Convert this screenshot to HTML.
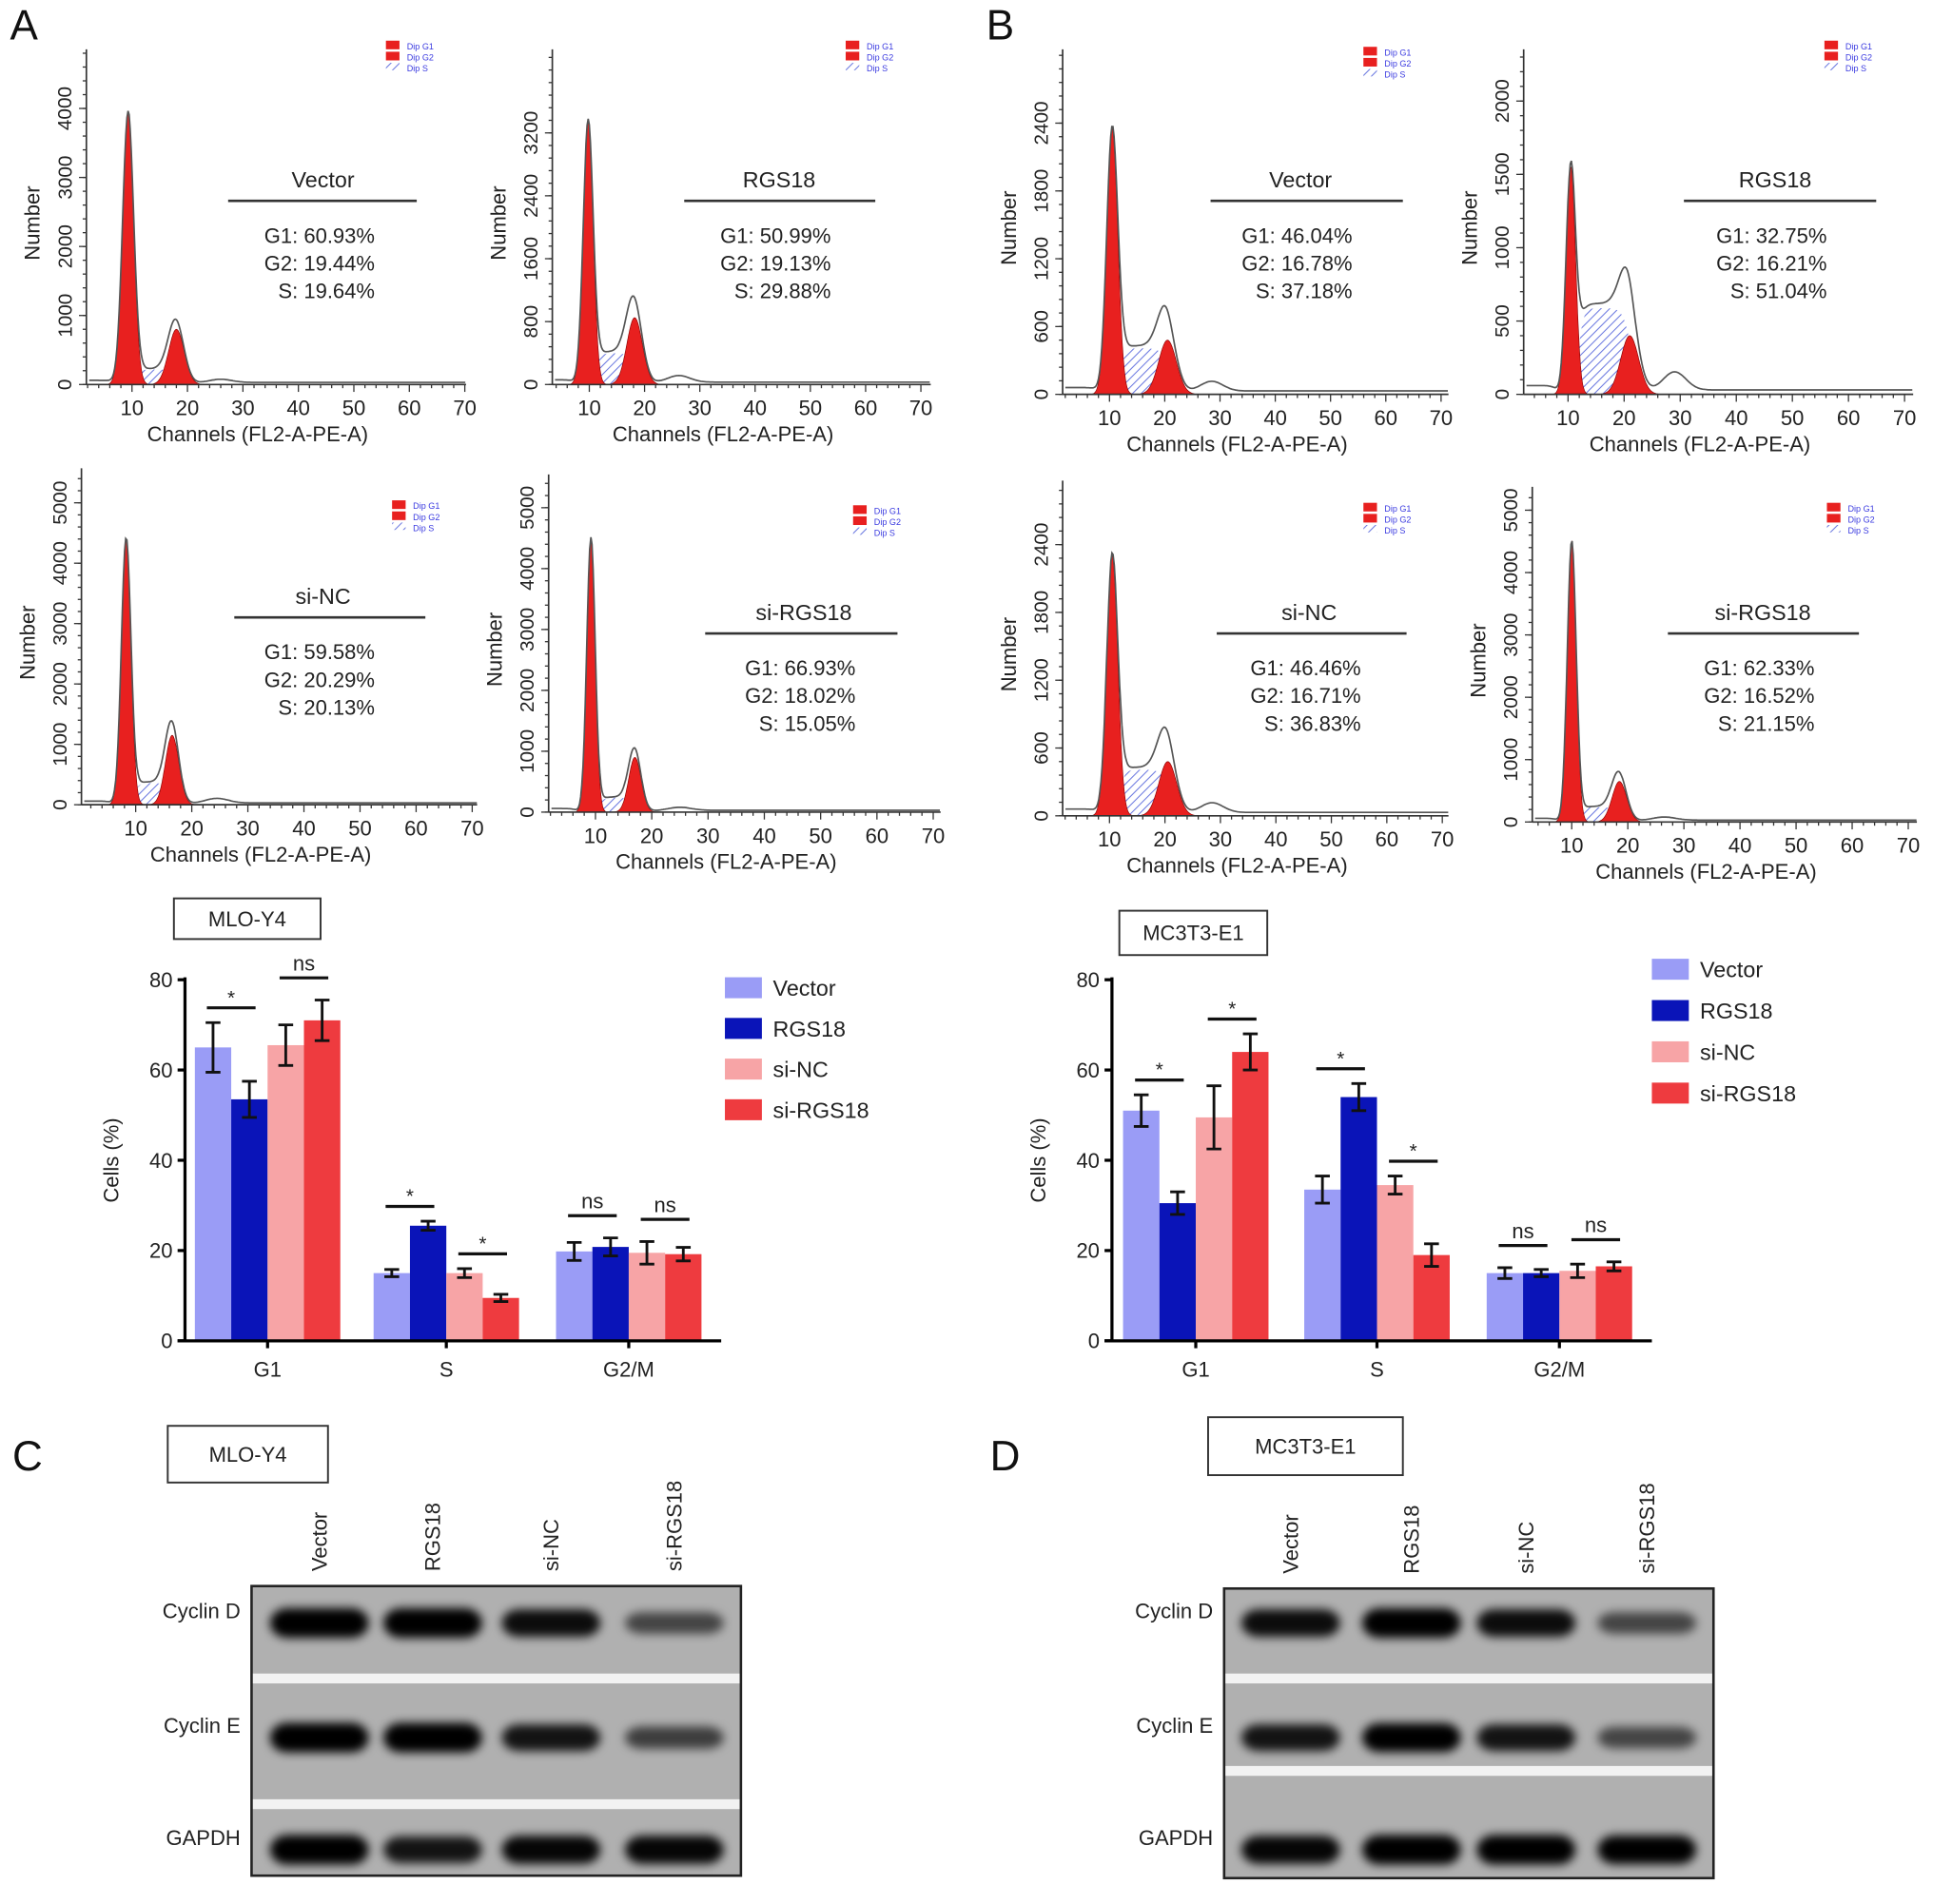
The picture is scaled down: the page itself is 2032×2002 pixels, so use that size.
<!DOCTYPE html>
<html><head><meta charset="utf-8">
<style>
html,body{margin:0;padding:0;background:#fff;}
svg{display:block;font-family:"Liberation Sans",Arial,sans-serif;}
</style></head>
<body>
<svg id="fig" width="2032" height="2002" viewBox="0 0 1568 1545" xmlns="http://www.w3.org/2000/svg">
<defs>
<pattern id="hatch" width="5" height="5" patternUnits="userSpaceOnUse" patternTransform="rotate(45)">
<rect width="5" height="5" fill="#fff"/><line x1="0" y1="0" x2="0" y2="5" stroke="#6a78e0" stroke-width="1.6"/></pattern>
<filter id="blur" x="-20%" y="-50%" width="140%" height="200%"><feGaussianBlur stdDeviation="4"/></filter>
</defs>
<g id="root"></g>
</svg>
<script>
// ===== Bar chart data =====
const categories = ["G1","S","G2/M"];
const seriesNames = ["Vector","RGS18","si-NC","si-RGS18"];
const seriesColors = ["#9a9cf6","#0a14b8","#f7a4a6","#ee3b3f"];
const yTicks = [0,20,40,60,80];
const mloValues = [[65,53.5,65.5,71],[15,25.5,15,9.5],[19.8,20.8,19.5,19.2]];
const mloErrors = [[5.5,4,4.5,4.5],[0.8,1,1,0.8],[2,2,2.5,1.5]];
const mcValues = [[51,30.5,49.5,64],[33.5,54,34.5,19],[15,15,15.5,16.5]];
const mcErrors = [[3.5,2.5,7,4],[3,3,2,2.5],[1.2,0.8,1.5,1]];
// significance: [category, first bar index, label]
const mloSig = [[0,0,"*"],[0,2,"ns"],[1,0,"*"],[1,2,"*"],[2,0,"ns"],[2,2,"ns"]];
const mcSig = [[0,0,"*"],[0,2,"*"],[1,0,"*"],[1,2,"*"],[2,0,"ns"],[2,2,"ns"]];

// ===== Histogram data =====
const histPanels = [
 {id:"a-vector",ax:70,ay0:312,top:40,xEnd:378,x10:107,x70:377,ticks:[0,1000,2000,3000,4000],perUnit:0.056,g1:[9.3,3950,1.0],g2:[18,800,1.4],s:230,title:"Vector",stats:["G1: 60.93%","G2: 19.44%","S: 19.64%"],tx:262,ty:146,lx1:185,lx2:338,leg:[313,33]},
 {id:"a-rgs18",ax:448,ay0:312,top:40,xEnd:755,x10:478,x70:747,ticks:[0,800,1600,2400,3200],perUnit:0.0638,g1:[9.8,3350,0.9],g2:[18.2,850,1.4],s:420,title:"RGS18",stats:["G1: 50.99%","G2: 19.13%","S: 29.88%"],tx:632,ty:146,lx1:555,lx2:710,leg:[686,33]},
 {id:"a-sinc",ax:66,ay0:653,top:380,xEnd:387,x10:110,x70:383,ticks:[0,1000,2000,3000,4000,5000],perUnit:0.049,g1:[8.3,4400,0.85],g2:[16.5,1150,1.2],s:380,title:"si-NC",stats:["G1: 59.58%","G2: 20.29%","S: 20.13%"],tx:262,ty:484,lx1:190,lx2:345,leg:[318,406]},
 {id:"a-sirgs18",ax:445,ay0:659,top:385,xEnd:763,x10:483,x70:757,ticks:[0,1000,2000,3000,4000,5000],perUnit:0.0494,g1:[9.2,4500,0.75],g2:[17,900,1.1],s:250,title:"si-RGS18",stats:["G1: 66.93%","G2: 18.02%","S: 15.05%"],tx:652,ty:497,lx1:572,lx2:728,leg:[692,410]},
 {id:"b-vector",ax:862,ay0:320,top:40,xEnd:1175,x10:900,x70:1169,ticks:[0,600,1200,1800,2400],perUnit:0.0917,g1:[10.5,2350,1.0],g2:[20.5,480,1.6],s:430,title:"Vector",stats:["G1: 46.04%","G2: 16.78%","S: 37.18%"],tx:1055,ty:146,lx1:982,lx2:1138,leg:[1106,38]},
 {id:"b-rgs18",ax:1236,ay0:320,top:40,xEnd:1552,x10:1272,x70:1545,ticks:[0,500,1000,1500,2000],perUnit:0.119,g1:[10.5,1550,0.85],g2:[21,400,1.6],s:620,title:"RGS18",stats:["G1: 32.75%","G2: 16.21%","S: 51.04%"],tx:1440,ty:146,lx1:1366,lx2:1522,leg:[1480,33]},
 {id:"b-sinc",ax:862,ay0:662,top:390,xEnd:1175,x10:900,x70:1170,ticks:[0,600,1200,1800,2400],perUnit:0.0917,g1:[10.5,2300,1.0],g2:[20.5,480,1.6],s:430,title:"si-NC",stats:["G1: 46.46%","G2: 16.71%","S: 36.83%"],tx:1062,ty:497,lx1:987,lx2:1141,leg:[1106,408]},
 {id:"b-sirgs18",ax:1243,ay0:667,top:395,xEnd:1555,x10:1275,x70:1548,ticks:[0,1000,2000,3000,4000,5000],perUnit:0.0506,g1:[10,4500,0.8],g2:[18.5,650,1.3],s:250,title:"si-RGS18",stats:["G1: 62.33%","G2: 16.52%","S: 21.15%"],tx:1430,ty:497,lx1:1353,lx2:1508,leg:[1482,408]}
];

const NS="http://www.w3.org/2000/svg";
const root=document.getElementById("root");
function mk(tag,attrs,parent,text){const e=document.createElementNS(NS,tag);for(const k in attrs)e.setAttribute(k,attrs[k]);if(text!==undefined)e.textContent=text;(parent||root).appendChild(e);return e;}

[["A",8,32],["B",800,32],["C",10,1193],["D",803,1193]].forEach(([t,x,y])=>{
 const e=mk("text",{x:x,y:y,"font-size":34,fill:"#111"},root,t);
 
 
});

function gauss(x,c,s){return Math.exp(-0.5*((x-c)/s)**2);}
function sig(x){return 1/(1+Math.exp(-x));}

histPanels.forEach(p=>{
 const g=mk("g",{});
 
 
 const k=(p.x70-p.x10)/60;
 const X=ch=>p.x10+(ch-10)*k;
 const Y=v=>p.ay0-v*p.perUnit;
 const c1=p.g1,c2=p.g2;
 const f1=x=>c1[1]*gauss(x,c1[0],c1[2]);
 const f2=x=>c2[1]*gauss(x,c2[0],c2[2]);
 const fs=x=>p.s*sig((x-c1[0]-1.3)/0.5)*sig((c2[0]+0.3-x)/0.7);
 const total=x=>f1(x)+f2(x)+fs(x)+ 50*gauss(x,c2[0]+8,2)*(p.s/250)+30*sig((x-c2[0]-3)/1)+60*sig((c1[0]-2.5-x)/0.5);
 const x0=(p.ax-p.x10)/k+10, x1=(p.xEnd-p.x10)/k+10;
 let d="M"+X(c1[0])+","+Y(0);
 for(let x=c1[0];x<=c2[0];x+=0.2)d+=" L"+X(x).toFixed(1)+","+Y(fs(x)*0.95).toFixed(1);
 d+=" L"+X(c2[0])+","+Y(0)+"Z";
 const sh=mk("path",{d:d,fill:"url(#hatch)",stroke:"none"},g);
 
 
 [[f1,c1,'g1-peak'],[f2,c2,'g2-peak']].forEach(([f,c,nm])=>{
  let dd="M"+X(c[0]-3.5*c[2])+","+Y(0);
  for(let x=c[0]-3.5*c[2];x<=c[0]+3.5*c[2];x+=0.1)dd+=" L"+X(x).toFixed(1)+","+Y(f(x)).toFixed(1);
  dd+=" Z";
  const pe=mk("path",{d:dd,fill:"#e8201f",stroke:"#8a0000","stroke-width":0.5},g);
  
  
 });
 let ld="";
 for(let x=x0+0.5;x<=x1;x+=0.2)ld+=(ld?" L":"M")+X(x).toFixed(1)+","+Y(total(x)).toFixed(1);
 const ln=mk("path",{d:ld,fill:"none",stroke:"#555","stroke-width":1.3},g);
 
 
 mk("line",{x1:p.ax,y1:p.top,x2:p.ax,y2:p.ay0,stroke:"#333","stroke-width":1.3},g);
 mk("line",{x1:p.ax,y1:p.ay0,x2:p.xEnd,y2:p.ay0,stroke:"#333","stroke-width":1.3},g);
 for(let yy=p.ay0;yy>=p.top;yy-=(p.ticks[1]*p.perUnit)/5)mk("line",{x1:p.ax-3,y1:yy,x2:p.ax,y2:yy,stroke:"#333"},g);
 p.ticks.forEach(t=>{
  mk("line",{x1:p.ax-6,y1:Y(t),x2:p.ax,y2:Y(t),stroke:"#333"},g);
  mk("text",{x:p.ax-12,y:Y(t),"font-size":16,fill:"#222","text-anchor":"middle",transform:`rotate(-90 ${p.ax-12} ${Y(t)})`},g,t);
 });
 for(let ch=2;ch<=x1;ch+=2)if(X(ch)>=p.ax)mk("line",{x1:X(ch),y1:p.ay0,x2:X(ch),y2:p.ay0+(ch%10==0?6:3),stroke:"#333"},g);
 for(let ch=10;ch<=70;ch+=10)mk("text",{x:X(ch),y:p.ay0+25,"font-size":17,fill:"#222","text-anchor":"middle"},g,ch);
 const xl=mk("text",{x:(p.ax+p.xEnd)/2-15,y:p.ay0+46,"font-size":17,fill:"#222","text-anchor":"middle"},g,"Channels (FL2-A-PE-A)");
 
 
 const yx=p.ax-38,yy=(p.top+p.ay0)/2+5;
 const yl=mk("text",{x:yx,y:yy,"font-size":17,fill:"#222","text-anchor":"middle",transform:`rotate(-90 ${yx} ${yy})`},g,"Number");
 
 
 const tt=mk("text",{x:p.tx,y:p.ty+6,"font-size":18,fill:"#222","text-anchor":"middle"},g,p.title);
 
 
 mk("line",{x1:p.lx1,y1:p.ty+17,x2:p.lx2,y2:p.ty+17,stroke:"#333","stroke-width":2},g);
 p.stats.forEach((s,i)=>mk("text",{x:p.tx+42,y:p.ty+51+i*22.5,"font-size":17,fill:"#222","text-anchor":"end"},g,s));
 const lg=mk("g",{},g);
 
 
 const [lx,ly]=p.leg;
 mk("rect",{x:lx,y:ly,width:11,height:7,fill:"#e8201f"},lg);
 mk("rect",{x:lx,y:ly+9,width:11,height:7,fill:"#e8201f"},lg);
 mk("rect",{x:lx,y:ly+18,width:11,height:6,fill:"url(#hatch)"},lg);
 ["Dip G1","Dip G2","Dip S"].forEach((t,i)=>mk("text",{x:lx+17,y:ly+7+i*9,"font-size":7,fill:"#3a3ae0"},lg,t));
});

function boxLabel(x,y,w,h,t,name){
 const g=mk("g",{});
 
 
 mk("rect",{x:x,y:y,width:w,height:h,fill:"#fff",stroke:"#333","stroke-width":1.5},g);
 mk("text",{x:x+w/2,y:y+h/2+6,"font-size":17,fill:"#222","text-anchor":"middle"},g,t);
}
boxLabel(141,729,119,33,"MLO-Y4","cell-line-label-mlo");
boxLabel(908,739,120,36,"MC3T3-E1","cell-line-label-mc3t3");

function barChart(cfg,values,errors,sigs){
 const g=mk("g",{});
 
 
 const Y=v=>cfg.y0-(v/80)*(cfg.y0-cfg.y80);
 const bw=29.5;
 const bx=(c,s)=>cfg.centers[c]-2*bw+s*bw;
 values.forEach((row,c)=>row.forEach((v,s)=>{
  const r=mk("rect",{x:bx(c,s),y:Y(v),width:bw,height:cfg.y0-Y(v),fill:seriesColors[s]},g);
  
  
  const cx=bx(c,s)+bw/2,e=errors[c][s];
  mk("path",{d:`M${cx},${Y(v+e)} V${Y(v-e)} M${cx-6},${Y(v+e)} H${cx+6} M${cx-6},${Y(v-e)} H${cx+6}`,stroke:"#111","stroke-width":2.2,fill:"none"},g);
 }));
 mk("line",{x1:cfg.ax,y1:cfg.y80-2,x2:cfg.ax,y2:cfg.y0,stroke:"#000","stroke-width":2.5},g);
 mk("line",{x1:cfg.ax-6,y1:cfg.y0,x2:cfg.xEnd,y2:cfg.y0,stroke:"#000","stroke-width":2.5},g);
 yTicks.forEach(t=>{
  mk("line",{x1:cfg.ax-6,y1:Y(t),x2:cfg.ax,y2:Y(t),stroke:"#000","stroke-width":2.5},g);
  mk("text",{x:cfg.ax-10,y:Y(t)+6,"font-size":17,fill:"#222","text-anchor":"end"},g,t);
 });
 categories.forEach((c,i)=>{
  mk("line",{x1:cfg.centers[i],y1:cfg.y0,x2:cfg.centers[i],y2:cfg.y0+6,stroke:"#000","stroke-width":2.5},g);
  mk("text",{x:cfg.centers[i],y:cfg.y0+29,"font-size":17,fill:"#222","text-anchor":"middle"},g,c);
 });
 const yt=mk("text",{x:cfg.ax-54,y:(cfg.y0+cfg.y80)/2,"font-size":17,fill:"#222","text-anchor":"middle",transform:`rotate(-90 ${cfg.ax-54} ${(cfg.y0+cfg.y80)/2})`},g,"Cells (%)");
 
 
 sigs.forEach(([c,s,lab])=>{
  const top=Math.max(values[c][s]+errors[c][s],values[c][s+1]+errors[c][s+1]);
  const ly=Y(top)-(lab==="ns"?18:12);
  const x1=bx(c,s)+bw/2-5,x2=bx(c,s+1)+bw/2+5;
  mk("line",{x1:x1,y1:ly,x2:x2,y2:ly,stroke:"#111","stroke-width":2.5},g);
  mk("text",{x:(x1+x2)/2,y:ly-(lab==="ns"?6:3),"font-size":lab==="ns"?17:16,fill:"#222","text-anchor":"middle"},g,lab);
 });
 const lg=mk("g",{},g);
 
 
 seriesNames.forEach((n,i)=>{
  const ly=cfg.leg[1]+i*cfg.legStep;
  const e=mk("rect",{x:cfg.leg[0],y:ly,width:30,height:17,fill:seriesColors[i]},lg);
  
  
  mk("text",{x:cfg.leg[0]+39,y:ly+15,"font-size":18,fill:"#222"},lg,n);
 });
}
barChart({name:"bar-chart-mlo-y4",ax:150,xEnd:585,y0:1088,y80:795,centers:[217,362,510],leg:[588,793],legStep:33},mloValues,mloErrors,mloSig);
barChart({name:"bar-chart-mc3t3-e1",ax:902,xEnd:1340,y0:1088,y80:795,centers:[970,1117,1265],leg:[1340,778],legStep:33.5},mcValues,mcErrors,mcSig);

boxLabel(136,1157,130,46,"MLO-Y4","blot-label-mlo");
boxLabel(980,1150,158,47,"MC3T3-E1","blot-label-mc3t3");
const lanes=["Vector","RGS18","si-NC","si-RGS18"];
const rows=["Cyclin D","Cyclin E","GAPDH"];
const mloBands=[[1,1,0.85,0.45],[1,1,0.8,0.5],[1,0.8,0.9,0.9]];
const mcBands=[[0.85,1,0.85,0.45],[0.8,0.95,0.8,0.45],[0.9,1,1,0.95]];
function blot(cfg,bands){
 const g=mk("g",{});
 
 
 mk("rect",{x:cfg.x,y:cfg.y,width:cfg.w,height:cfg.h,fill:"#b0b0b0"},g);
 cfg.seps.forEach(s=>mk("rect",{x:cfg.x,y:s,width:cfg.w,height:8,fill:"#f2f2f2"},g));
 rows.forEach((r,ri)=>{
  const t=mk("text",{x:cfg.x-9,y:cfg.rowY[ri]+6,"font-size":17,fill:"#222","text-anchor":"end"},g,r);
  
  
  bands[ri].forEach((v,li)=>{
   const b=mk("rect",{x:cfg.lanes[li]-40,y:cfg.rowY[ri]+10-(6+6*v),width:80,height:12+12*v,rx:14,fill:"#000","fill-opacity":Math.min(1,0.25+0.8*v),filter:"url(#blur)"},g);
   
   
  });
 });
 mk("rect",{x:cfg.x,y:cfg.y,width:cfg.w,height:cfg.h,fill:"none",stroke:"#222","stroke-width":2},g);
 lanes.forEach((l,li)=>{
  const x=cfg.lanes[li]+6,y=cfg.y-12;
  mk("text",{x:x,y:y,"font-size":17,fill:"#222",transform:`rotate(-90 ${x} ${y})`},g,l);
 });
}
blot({name:"western-blot-mlo",x:204,y:1287,w:397,h:235,seps:[1358,1460],rowY:[1307,1400,1491],lanes:[259,351,447,547]},mloBands);
blot({name:"western-blot-mc3t3",x:993,y:1289,w:397,h:235,seps:[1358,1433],rowY:[1307,1400,1491],lanes:[1047,1145,1238,1336]},mcBands);
</script>
</body></html>
